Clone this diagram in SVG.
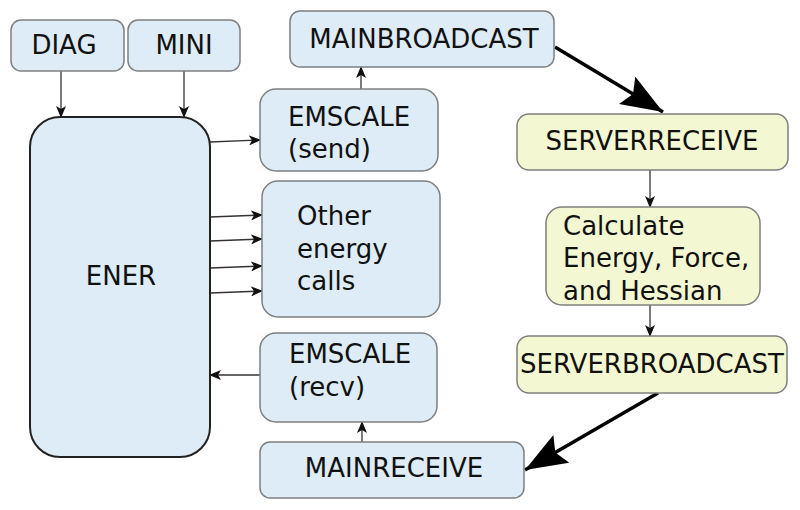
<svg xmlns="http://www.w3.org/2000/svg" width="800" height="510" viewBox="0 0 800 510">
<style>
.b{fill:#ddecf6;stroke:#7f7f7f;stroke-width:1.5}
.y{fill:#f4f8d2;stroke:#7f7f7f;stroke-width:1.5}
.e{fill:#ddecf6;stroke:#222;stroke-width:2}
text{font-family:"DejaVu Sans",sans-serif;font-size:26px;fill:#111}
.c{text-anchor:middle}
.s{stroke:#333;stroke-width:1.3;fill:none;marker-end:url(#sa)}
.t{stroke:#000;stroke-width:3.5;fill:none;marker-end:url(#ba)}
</style>
<defs>
<marker id="sa" markerUnits="userSpaceOnUse" markerWidth="14" markerHeight="10" refX="11" refY="5" orient="auto">
<path d="M0,0 L12,5 L0,10 L3,5 Z" fill="#111"/>
</marker>
<marker id="ba" markerUnits="userSpaceOnUse" markerWidth="44" markerHeight="32" refX="42" refY="16" orient="auto">
<path d="M0,0 L42,16 L0,32 L7,16 Z" fill="#000"/>
</marker>
</defs>
<g id="connectors">
<line class="s" x1="61" y1="71" x2="61" y2="117"/>
<line class="s" x1="184" y1="71" x2="184" y2="117"/>
<line class="s" x1="210" y1="142" x2="260" y2="140"/>
<line class="s" x1="210" y1="217" x2="262" y2="215"/>
<line class="s" x1="210" y1="241" x2="262" y2="239"/>
<line class="s" x1="210" y1="268" x2="262" y2="266"/>
<line class="s" x1="210" y1="293" x2="262" y2="291"/>
<line class="s" x1="260" y1="375" x2="210" y2="375"/>
<line class="s" x1="361" y1="89" x2="361" y2="67"/>
<line class="s" x1="362" y1="442" x2="362" y2="422"/>
<line class="s" x1="650" y1="170" x2="650" y2="207"/>
<line class="s" x1="650" y1="305" x2="650" y2="336"/>
<line class="t" x1="555" y1="47" x2="663" y2="112"/>
<line class="t" x1="658" y1="393" x2="525" y2="470"/>
</g>
<g id="DIAG"><rect class="b" x="11" y="20" width="113" height="51" rx="10"/><text class="c" x="64" y="54">DIAG</text></g>
<g id="MINI"><rect class="b" x="128" y="20" width="112" height="51" rx="10"/><text class="c" x="184" y="54">MINI</text></g>
<g id="ENER"><rect class="e" x="30" y="117" width="180" height="340" rx="30"/><text class="c" x="121" y="285">ENER</text></g>
<g id="MAINBROADCAST"><rect class="b" x="290" y="11" width="264" height="56" rx="10"/><text class="c" x="424" y="48">MAINBROADCAST</text></g>
<g id="EMSCALE_send"><rect class="b" x="260" y="89" width="178" height="82" rx="16"/><text x="288" y="126">EMSCALE</text><text x="288" y="158">(send)</text></g>
<g id="OTHER"><rect class="b" x="262" y="181" width="178" height="136" rx="16"/><text x="297" y="225">Other</text><text x="297" y="258">energy</text><text x="297" y="290">calls</text></g>
<g id="EMSCALE_recv"><rect class="b" x="260" y="333" width="177" height="89" rx="16"/><text x="289" y="363">EMSCALE</text><text x="289" y="396">(recv)</text></g>
<g id="MAINRECEIVE"><rect class="b" x="260" y="442" width="264" height="56" rx="10"/><text class="c" x="394" y="477">MAINRECEIVE</text></g>
<g id="SERVERRECEIVE"><rect class="y" x="517" y="114" width="271" height="56" rx="12"/><text class="c" x="652" y="150">SERVERRECEIVE</text></g>
<g id="CALC"><rect class="y" x="546" y="207" width="214" height="98" rx="16"/><text x="563" y="235">Calculate</text><text x="563" y="267">Energy, Force,</text><text x="563" y="300">and Hessian</text></g>
<g id="SERVERBROADCAST"><rect class="y" x="517" y="336" width="270" height="57" rx="12"/><text class="c" x="652" y="373">SERVERBROADCAST</text></g>
</svg>
